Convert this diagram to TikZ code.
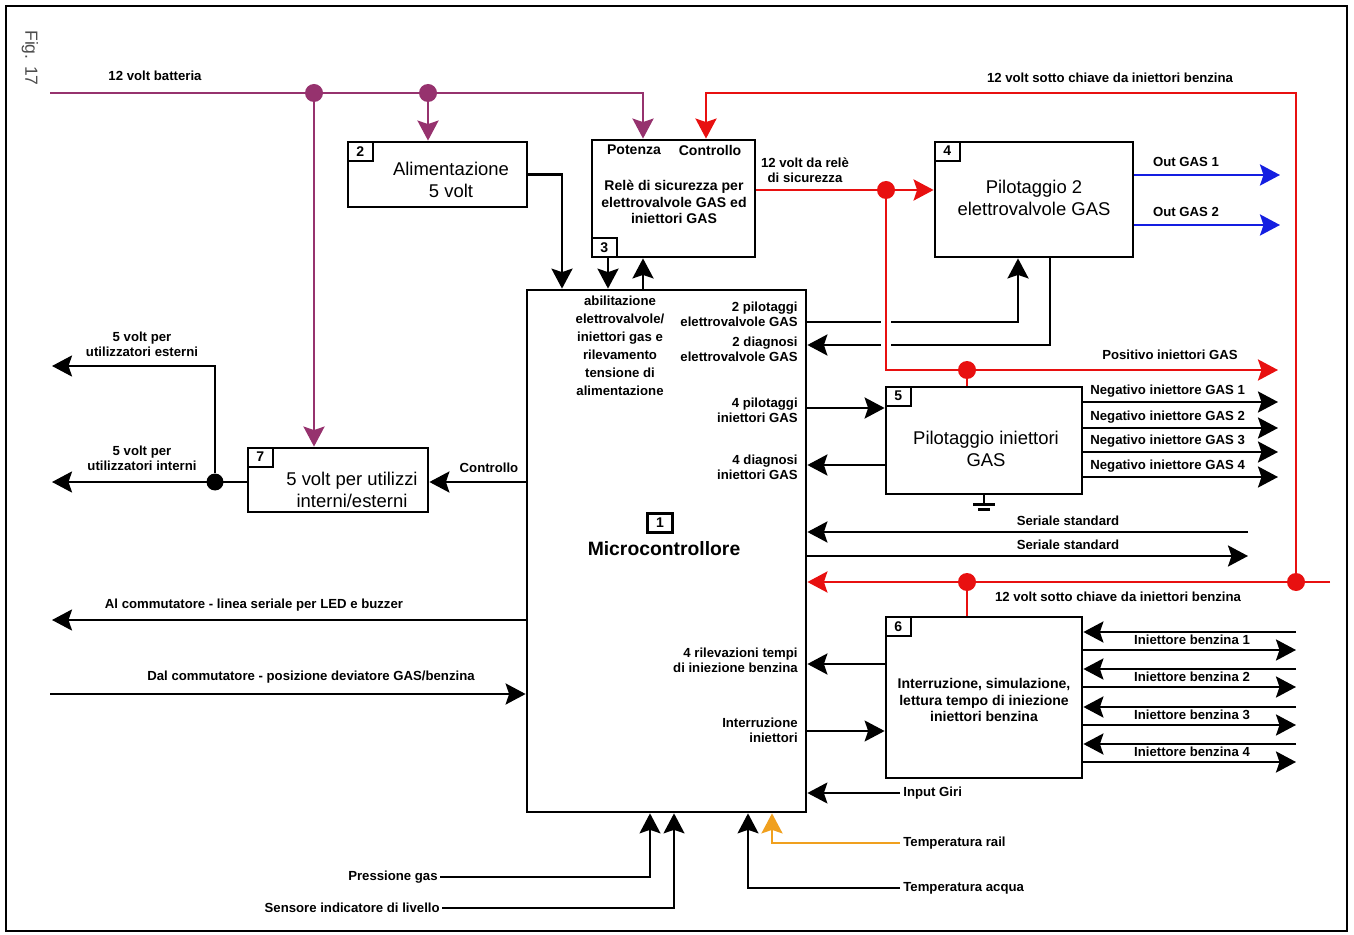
\documentclass[tikz,border=0pt]{standalone}
\usepackage{fontspec}
\setmainfont{Liberation Sans}
\usetikzlibrary{arrows.meta,positioning}

\definecolor{batt}{RGB}{150,50,110}
\definecolor{chiave}{RGB}{232,16,16}
\definecolor{outgas}{RGB}{20,30,225}
\definecolor{rail}{RGB}{240,160,30}

\begin{document}
\begin{tikzpicture}[x=0.02cm, y=-0.02cm,
    >={Stealth[length=0.4cm, width=0.42cm, inset=0.07cm]},
    blk/.style={draw, line width=1.6pt, inner sep=0pt},
    num/.style={draw, line width=1.2pt, fill=white, inner sep=0pt, minimum width=0.5cm, minimum height=0.38cm, font=\bfseries\fontsize{8}{8}\selectfont},
    btxt/.style={align=center, inner sep=0pt, font=\fontsize{10.5}{12.5}\selectfont},
    stxt/.style={align=center, inner sep=0pt, font=\bfseries\fontsize{8}{9.5}\selectfont},
    lbl/.style={align=center, inner sep=0pt, font=\bfseries\fontsize{7.5}{8.6}\selectfont},
    sig/.style={draw, line width=1.5pt},
    thinsig/.style={draw, line width=1pt},
    pwr/.style={draw=batt, line width=1.6pt},
    key/.style={draw=chiave, line width=1.6pt},
    gas/.style={draw=outgas, line width=1.6pt},
    jdot/.style={circle, fill=#1, inner sep=0pt, minimum size=0.36cm}]

\useasboundingbox (0,0) rectangle (1354,935);
\draw[line width=1pt] (6,6) rectangle (1347,931);
\node[rotate=-90, text=black!70, font=\fontsize{10}{10}\selectfont] (fig) at (30,58) {Fig. 17};

% blocchi
\node[blk, minimum width=5.58cm, minimum height=10.44cm] (b1) at (666.5,551) {};
\node[blk, minimum width=3.58cm, minimum height=1.3cm] (b2) at (437.5,174.5) {};
\node[blk, minimum width=3.26cm, minimum height=2.34cm] (b3) at (673.5,198.5) {};
\node[blk, minimum width=3.96cm, minimum height=2.3cm] (b4) at (1034,199.5) {};
\node[blk, minimum width=3.92cm, minimum height=2.14cm] (b5) at (984,440.5) {};
\node[blk, minimum width=3.92cm, minimum height=3.22cm] (b6) at (984,697.5) {};
\node[blk, minimum width=3.6cm, minimum height=1.28cm] (b7) at (338,480) {};

\node[num, anchor=north west] (n2) at (b2.north west) {2};
\node[num, anchor=south west] (n3) at (b3.south west) {3};
\node[num, anchor=north west] (n4) at (b4.north west) {4};
\node[num, anchor=north west] (n5) at (b5.north west) {5};
\node[num, anchor=north west] (n6) at (b6.north west) {6};
\node[num, anchor=north west] (n7) at (b7.north west) {7};
\node[num] (n1) at (660,523) {1};

\node[stxt, font=\bfseries\fontsize{11}{12}\selectfont] (t1) at (664,549) {Microcontrollore};
\node[btxt] (t2) at (451,180) {Alimentazione\\5 volt};
\node[stxt] (t3a) at (634,150) {Potenza};
\node[stxt] (t3b) at (710,150) {Controllo};
\node[stxt] (t3) at (674,202) {Relè di sicurezza per\\elettrovalvole GAS ed\\iniettori GAS};
\node[btxt] (t4) at (1034,198) {Pilotaggio 2\\elettrovalvole GAS};
\node[btxt] (t5) at (986,449) {Pilotaggio iniettori\\GAS};
\node[stxt] (t6) at (984,700) {Interruzione, simulazione,\\lettura tempo di iniezione\\iniettori benzina};
\node[btxt] (t7) at (352,490) {5 volt per utilizzi\\interni/esterni};

% testi interni al microcontrollore
\node[lbl, font=\bfseries\fontsize{7.5}{10.2}\selectfont] (abil) at (620,346) {abilitazione\\elettrovalvole/\\iniettori gas e\\rilevamento\\tensione di\\alimentazione};
\node[lbl, anchor=east, align=right] (p2e) at (798,314) {2 pilotaggi\\elettrovalvole GAS};
\node[lbl, anchor=east, align=right] (d2e) at (798,349) {2 diagnosi\\elettrovalvole GAS};
\node[lbl, anchor=east, align=right] (p4i) at (798,410) {4 pilotaggi\\iniettori GAS};
\node[lbl, anchor=east, align=right] (d4i) at (798,467) {4 diagnosi\\iniettori GAS};
\node[lbl, anchor=east, align=right] (ril) at (798,660) {4 rilevazioni tempi\\di iniezione benzina};
\node[lbl, anchor=east, align=right] (intr) at (798,730) {Interruzione\\iniettori};

% 12 volt batteria
\coordinate (battin) at (50,93);
\node[jdot=batt] (pj1) at (314,93) {};
\node[jdot=batt] (pj2) at (428,93) {};
\draw[pwr, ->] (battin) -| (643,0 |- b3.north);
\draw[pwr, ->] (pj1) -- (pj1 |- b7.north);
\draw[pwr, ->] (pj2) -- (pj2 |- b2.north);
\node[lbl] (lbatt) at (155,76) {12 volt batteria};

% alimentazione e rele
\draw[sig, ->] (b2.east) -| (562,0 |- b1.north);
\draw[sig, ->] (608,0 |- b3.south) -- (608,0 |- b1.north);
\draw[sig, ->] (643,0 |- b1.north) -- (643,0 |- b3.south);

% elettrovalvole
\draw[sig, ->] (b1.east |- 0,322) -| (1018,0 |- b4.south);
\draw[sig, ->] (1050,0 |- b4.south) |- (b1.east |- 0,345);
\draw[gas, ->] (b4.east |- 0,175) -- (1280,175) coordinate (out1);
\draw[gas, ->] (b4.east |- 0,225) -- (1280,225) coordinate (out2);
\node[lbl] (lout1) at (1186,162) {Out GAS 1};
\node[lbl] (lout2) at (1186,212) {Out GAS 2};

% iniettori GAS
\draw[sig, ->] (b1.east |- 0,408) -- (b5.west |- 0,408);
\draw[sig, ->] (b5.west |- 0,465) -- (b1.east |- 0,465);
\foreach \y/\k in {402/1, 428/2, 452/3, 477/4}{
  \draw[sig, ->] (b5.east |- 0,\y) -- (1278,\y);
  \node[lbl, anchor=west] at (1090,\y-11) {Negativo iniettore GAS \k};
}
\draw[sig] (b5.south) -- ++(0,9) coordinate (gnd);
\draw[sig] ([xshift=-0.22cm]gnd) -- ([xshift=0.22cm]gnd);
\draw[sig] ([xshift=-0.12cm, yshift=-0.1cm]gnd) -- ([xshift=0.12cm, yshift=-0.1cm]gnd);

% seriale
\draw[sig, ->] (1248,532) coordinate (serin) -- (b1.east |- serin);
\draw[sig, ->] (b1.east |- 0,556) -- (1248,556) coordinate (serout);
\node[lbl] (lser1) at (1068,521) {Seriale standard};
\node[lbl] (lser2) at (1068,545) {Seriale standard};

% iniettori benzina
\draw[sig, ->] (b6.west |- 0,664) -- (b1.east |- 0,664);
\draw[thinsig, ->] (b1.east |- 0,731) -- (b6.west |- 0,731);
\foreach \y/\k in {632/1, 669/2, 707/3, 744/4}{
  \draw[sig, ->] (1296,\y) -- (b6.east |- 0,\y);
  \draw[sig, ->] (b6.east |- 0,\y+18) -- (1296,\y+18);
  \node[lbl] at (1192,\y+8) {Iniettore benzina \k};
}

% rosso: 12 volt sotto chiave e rele
\coordinate (keyin) at (1330,582);
\node[jdot=chiave] (kj1) at (1296,582) {};
\node[jdot=chiave] (kj2) at (967,582) {};
\node[jdot=chiave] (rj1) at (886,190) {};
\node[jdot=chiave] (rj2) at (967,370) {};
\draw[white, line width=6pt] (886,312) -- (886,356);
\draw[key, ->] (keyin) -- (b1.east |- keyin);
\draw[key, ->] (kj1) |- (706,93) -- (706,0 |- b3.north);
\draw[key] (kj2) -- (kj2 |- b6.north);
\draw[key, ->] (b3.east |- rj1) -- (b4.west |- rj1);
\draw[key, ->] (rj1) |- (1278,370) coordinate (posout);
\draw[key] (rj2) -- (rj2 |- b5.north);
\node[lbl] (lkey1) at (1110,78) {12 volt sotto chiave da iniettori benzina};
\node[lbl] (lkey2) at (1118,597) {12 volt sotto chiave da iniettori benzina};
\node[lbl] (lrele) at (805,170) {12 volt da relè\\di sicurezza};
\node[lbl] (lpos) at (1170,355) {Positivo iniettori GAS};

% ingressi in basso
\draw[thinsig, ->] (900,793) coordinate (giri) -- (b1.east |- giri);
\node[lbl, anchor=west] (lgiri) at (903,793) {Input Giri};
\draw[thinsig, ->] (440,877) coordinate (press) -| (650,0 |- b1.south);
\draw[thinsig, ->] (442,908) coordinate (livello) -| (674,0 |- b1.south);
\draw[thinsig, ->] (900,888) coordinate (acqua) -| (748,0 |- b1.south);
\draw[draw=rail, line width=1.5pt, ->] (900,843) coordinate (trail) -| (772,0 |- b1.south);
\node[lbl, anchor=east] (lpress) at (438,877) {Pressione gas};
\node[lbl, anchor=east] (lliv) at (440,908) {Sensore indicatore di livello};
\node[lbl, anchor=west] (lrail) at (903,843) {Temperatura rail};
\node[lbl, anchor=west] (lacqua) at (903,888) {Temperatura acqua};

% 5 volt e commutatore
\draw[sig, ->] (b1.west |- 0,482) -- (b7.east |- 0,482);
\node[lbl] (lctrl) at (489,468) {Controllo};
\node[jdot=black, minimum size=0.34cm] (lj) at (215,482) {};
\coordinate (int5) at (52,482);
\coordinate (ext5) at (52,366);
\draw[sig, ->] (b7.west |- lj) -- (int5);
\draw[sig, ->] (lj) |- (ext5);
\node[lbl] (lext) at (142,344) {5 volt per\\utilizzatori esterni};
\node[lbl] (lint) at (142,458) {5 volt per\\utilizzatori interni};
\draw[sig, ->] (b1.west |- 0,620) -- (52,620) coordinate (comm1);
\draw[sig, ->] (50,694) coordinate (comm2) -- (b1.west |- comm2);
\node[lbl] (lcomm1) at (254,605) {Al commutatore - linea seriale per LED e buzzer};
\node[lbl] (lcomm2) at (311,677) {Dal commutatore - posizione deviatore GAS/benzina};
\end{tikzpicture}
\end{document}
